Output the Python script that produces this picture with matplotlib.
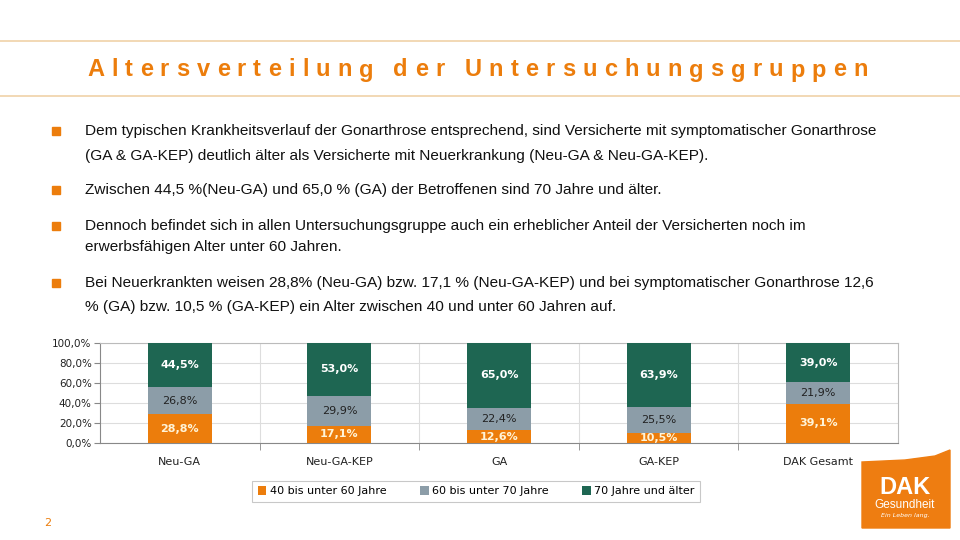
import numpy as np
import matplotlib.pyplot as plt
from matplotlib.patches import Rectangle, Polygon
from matplotlib.ticker import FixedLocator, FuncFormatter

categories = ['Neu-GA', 'Neu-GA-KEP', 'GA', 'GA-KEP', 'DAK Gesamt']
age_40_60 = [28.8, 17.1, 12.6, 10.5, 39.1]
age_60_70 = [26.8, 29.9, 22.4, 25.5, 21.9]
age_70_plus = [44.5, 53.0, 65.0, 63.9, 39.0]
series_names = ['40 bis unter 60 Jahre', '60 bis unter 70 Jahre', '70 Jahre und älter']

title = 'Altersverteilung der Untersuchungsgruppen'
bullets = [
    ['Dem typischen Krankheitsverlauf der Gonarthrose entsprechend, sind Versicherte mit symptomatischer Gonarthrose',
     '(GA & GA-KEP) deutlich älter als Versicherte mit Neuerkrankung (Neu-GA & Neu-GA-KEP).'],
    ['Zwischen 44,5 %(Neu-GA) und 65,0 % (GA) der Betroffenen sind 70 Jahre und älter.'],
    ['Dennoch befindet sich in allen Untersuchungsgruppe auch ein erheblicher Anteil der Versicherten noch im',
     'erwerbsfähigen Alter unter 60 Jahren.'],
    ['Bei Neuerkrankten weisen 28,8% (Neu-GA) bzw. 17,1 % (Neu-GA-KEP) und bei symptomatischer Gonarthrose 12,6',
     '% (GA) bzw. 10,5 % (GA-KEP) ein Alter zwischen 40 und unter 60 Jahren auf.'],
]

orange = '#EC7D0C'
grey = '#8C9DA8'
green = '#1E6652'
W, H = 960, 540

fig = plt.figure(figsize=(9.6, 5.4), dpi=100)
renderer = fig.canvas.get_renderer()


def fy(y):
    return 1 - y / H


def width_px(t):
    return t.get_window_extent(renderer=renderer).width


# header lines and title (letter-spaced, spread from x=87 to x=868)
for yy in (41, 96):
    fig.add_artist(plt.Line2D([0, 1], [fy(yy), fy(yy)], color='#F0D2A8', lw=1.2))
title_kw = dict(va='center', ha='left', color=orange, fontsize=17, fontweight='bold',
                family='Liberation Sans')
chars = [fig.text(0, fy(70), c, **title_kw) for c in title]
widths = [width_px(c) if c.get_text() != ' ' else 6 for c in chars]
gap = (868 - 87 - sum(widths)) / (len(chars) - 1)
xpos = 87
for c, w in zip(chars, widths):
    c.set_x(xpos / W)
    xpos += w + gap

# bullet points, font size fitted so the first line spans x=85..881
probe = fig.text(0, 0, bullets[0][0], fontsize=10, family='Liberation Sans')
body_size = 10 * 796 / width_px(probe)
probe.remove()
line_y = [[131, 156], [190], [226, 247], [283, 307]]
for lines, ys in zip(bullets, line_y):
    fig.add_artist(Rectangle((52 / W, fy(ys[0] + 4)), 8 / W, 8 / H, color=orange,
                             transform=fig.transFigure))
    for txt, yy in zip(lines, ys):
        fig.text(85 / W, fy(yy), txt, ha='left', va='center', fontsize=body_size,
                 family='Liberation Sans', color='#111111')

# chart
ax = fig.add_axes([100 / W, fy(443), 798 / W, 100 / H])
x = np.arange(len(categories))
b1 = ax.bar(x, age_40_60, 0.4, color=orange, label=series_names[0], zorder=3)
b2 = ax.bar(x, age_60_70, 0.4, bottom=age_40_60, color=grey, label=series_names[1], zorder=3)
bottom3 = np.array(age_40_60) + np.array(age_60_70)
b3 = ax.bar(x, age_70_plus, 0.4, bottom=bottom3, color=green, label=series_names[2], zorder=3)

for bars, vals, bots, col, wt in [(b1, age_40_60, np.zeros(5), '#FFF4D8', 'bold'),
                                  (b2, age_60_70, np.array(age_40_60), '#222222', 'normal'),
                                  (b3, age_70_plus, bottom3, 'white', 'bold')]:
    for xi, v, b in zip(x, vals, bots):
        top = min(b + v, 100)
        ax.text(xi, (b + top) / 2, f'{v:.1f}%'.replace('.', ','), ha='center', va='center',
                fontsize=8, color=col, fontweight=wt, zorder=4)

ax.set_xlim(-0.5, len(categories) - 0.5)
ax.set_ylim(0, 100)
ax.set_yticks(np.arange(0, 101, 20))
ax.yaxis.set_major_formatter(FuncFormatter(lambda v, p: f'{v:.1f}%'.replace('.', ',')))
ax.set_xticks(x)
ax.set_xticklabels(categories)
ax.xaxis.set_minor_locator(FixedLocator(np.arange(0.5, len(categories) - 1, 1)))
ax.tick_params(axis='x', which='major', length=0, pad=10, labelsize=8, labelcolor='#222222')
ax.tick_params(axis='x', which='minor', length=5, color='#888888', direction='out')
ax.tick_params(axis='y', length=4, color='#888888', labelsize=7.5, labelcolor='#222222', pad=2)
ax.grid(axis='y', color='#DDDDDD', lw=0.8, zorder=0)
ax.grid(axis='x', which='minor', color='#DDDDDD', lw=0.8, zorder=0)
for side in ('left', 'bottom'):
    ax.spines[side].set_color('#888888')
for side in ('top', 'right'):
    ax.spines[side].set_color('#BBBBBB')

leg = ax.legend(loc='upper center', bbox_to_anchor=(376 / 798, -0.32), ncol=3,
                fontsize=8, frameon=True, fancybox=False, edgecolor='#BBBBBB',
                handlelength=0.8, handleheight=0.8, handletextpad=0.3, columnspacing=3,
                borderpad=0.5)
leg.get_frame().set_linewidth(0.8)

# page number
fig.text(48 / W, fy(523), '2', color=orange, fontsize=8, ha='center', va='center')

# logo
logo = Polygon([(862 / W, fy(462)), (905 / W, fy(460)), (935 / W, fy(456)), (950 / W, fy(450)),
                (950 / W, fy(528)), (862 / W, fy(528))],
               closed=True, color='#EE7D11', transform=fig.transFigure)
fig.add_artist(logo)
fig.text(905 / W, fy(488), 'DAK', color='white', fontsize=17, fontweight='bold', ha='center',
         va='center', family='Liberation Sans')
fig.text(905 / W, fy(505), 'Gesundheit', color='white', fontsize=8.5, ha='center', va='center',
         family='Liberation Sans')
fig.text(905 / W, fy(516), 'Ein Leben lang.', color='white', fontsize=4.5, ha='center', va='center',
         style='italic')

fig.savefig('out.png', dpi=100)
